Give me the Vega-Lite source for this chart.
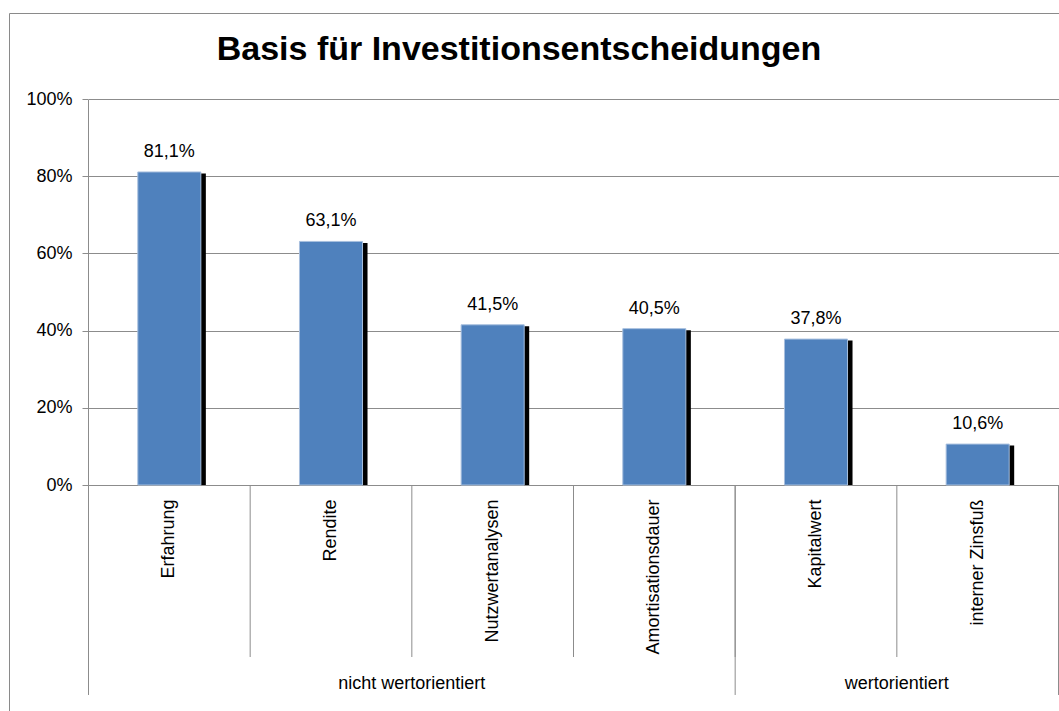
{
  "$schema": "https://vega.github.io/schema/vega-lite/v6.json",
  "width": 1052,
  "height": 700,
  "autosize": {"type": "none"},
  "padding": {"left": 9, "top": 13, "right": -2, "bottom": -2},
  "background": "white",
  "config": {
    "font": "Liberation Sans",
    "view": {"stroke": "#8a8a8a", "strokeWidth": 1}
  },
  "title": {
    "text": "Basis für Investitionsentscheidungen",
    "font": "Liberation Sans",
    "fontSize": 34,
    "fontWeight": "bold",
    "color": "#000000",
    "anchor": "middle",
    "frame": "group",
    "baseline": "alphabetic",
    "offset": -49,
    "dx": -16,
    "dy": 32
  },
  "data": {
    "values": [
      {"cat": "Erfahrung", "value": 81.1, "label": "81,1%", "group": "nicht wertorientiert"},
      {"cat": "Rendite", "value": 63.1, "label": "63,1%", "group": "nicht wertorientiert"},
      {"cat": "Nutzwertanalysen", "value": 41.5, "label": "41,5%", "group": "nicht wertorientiert"},
      {"cat": "Amortisationsdauer", "value": 40.5, "label": "40,5%", "group": "nicht wertorientiert"},
      {"cat": "Kapitalwert", "value": 37.8, "label": "37,8%", "group": "wertorientiert"},
      {"cat": "interner Zinsfuß", "value": 10.6, "label": "10,6%", "group": "wertorientiert"}
    ]
  },
  "encoding": {
    "x": {
      "field": "cat",
      "type": "nominal",
      "sort": null,
      "scale": {"range": [79.5, 1049.5], "paddingInner": 0, "paddingOuter": 0},
      "axis": {
        "title": null,
        "orient": "bottom",
        "offset": -228,
        "domain": false,
        "ticks": false,
        "labelAngle": 270,
        "labelPadding": 14,
        "labelFont": "Liberation Sans",
        "labelFontSize": 18,
        "labelColor": "#000000",
        "labelLimit": 300
      }
    }
  },
  "layer": [
    {
      "mark": {"type": "bar", "color": "#000000", "width": {"band": 0.39}, "xOffset": 5, "yOffset": 1.5},
      "encoding": {
        "y": {
          "field": "value",
          "type": "quantitative",
          "scale": {"domain": [0, 100], "range": [472, 86], "nice": false},
          "axis": {
            "title": null,
            "orient": "left",
            "offset": -79,
            "values": [0, 20, 40, 60, 80, 100],
            "format": ".0f",
            "labelExpr": "datum.label + '%'",
            "grid": true,
            "gridColor": "#8c8c8c",
            "gridWidth": 1,
            "domainColor": "#8c8c8c",
            "tickColor": "#8c8c8c",
            "tickSize": 6,
            "labelPadding": 10,
            "labelFont": "Liberation Sans",
            "labelFontSize": 18,
            "labelColor": "#000000"
          }
        },
        "y2": {"datum": 0}
      }
    },
    {
      "mark": {"type": "bar", "color": "#4F81BD", "width": {"band": 0.39}, "stroke": "#A7BFDE", "strokeWidth": 1},
      "encoding": {"y": {"field": "value", "type": "quantitative"}}
    },
    {
      "mark": {"type": "text", "font": "Liberation Sans", "fontSize": 18, "color": "#000000", "baseline": "alphabetic", "dy": -15},
      "encoding": {
        "y": {"field": "value", "type": "quantitative"},
        "text": {"field": "label"}
      }
    },
    {
      "mark": {"type": "rule", "color": "#8c8c8c", "strokeWidth": 1},
      "encoding": {
        "x": {"field": "cat", "type": "nominal", "sort": null, "bandPosition": 0},
        "y": {"datum": 0, "type": "quantitative"},
        "y2": {"datum": -44.56}
      }
    },
    {
      "transform": [{"filter": "datum.cat == 'Erfahrung' || datum.cat == 'Kapitalwert'"}],
      "mark": {"type": "rule", "color": "#8c8c8c", "strokeWidth": 1},
      "encoding": {
        "x": {"field": "cat", "type": "nominal", "sort": null, "bandPosition": 0},
        "y": {"datum": 0, "type": "quantitative"},
        "y2": {"datum": -54.4}
      }
    },
    {
      "transform": [{"filter": "datum.cat == 'interner Zinsfuß'"}],
      "mark": {"type": "rule", "color": "#8c8c8c", "strokeWidth": 1},
      "encoding": {
        "x": {"field": "cat", "type": "nominal", "sort": null, "bandPosition": 1},
        "y": {"datum": 0, "type": "quantitative"},
        "y2": {"datum": -54.4}
      }
    },
    {
      "transform": [{"filter": "datum.cat == 'Nutzwertanalysen' || datum.cat == 'interner Zinsfuß'"}],
      "mark": {"type": "text", "font": "Liberation Sans", "fontSize": 18, "color": "#000000", "baseline": "alphabetic"},
      "encoding": {
        "x": {"field": "cat", "type": "nominal", "sort": null, "bandPosition": 0},
        "y": {"datum": -52.85, "type": "quantitative"},
        "text": {"field": "group"}
      }
    }
  ]
}
